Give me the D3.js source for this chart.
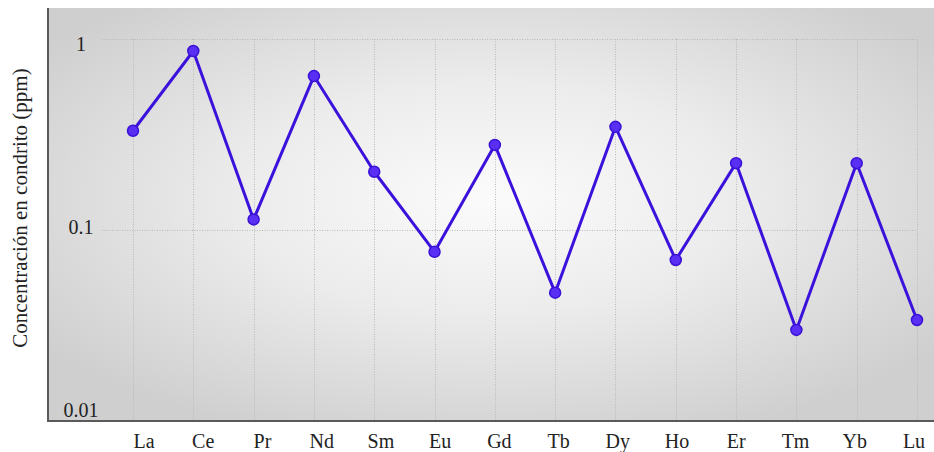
<!DOCTYPE html>
<html>
<head>
<meta charset="utf-8">
<script src="https://cdn.jsdelivr.net/npm/d3@7"></script>
<style>
  html, body { margin: 0; padding: 0; background: #fff; }
  svg { display: block; }
  text { font-family: "Liberation Serif", "Times New Roman", serif; fill: #222; }
</style>
</head>
<body>
<svg id="chart" width="934" height="452"></svg>
<script>
// Chondrite-normalised REE concentrations (ppm)
const elements = ["La", "Ce", "Pr", "Nd", "Sm", "Eu", "Gd", "Tb", "Dy", "Ho", "Er", "Tm", "Yb", "Lu"];
const concentrations = [0.330, 0.865, 0.113, 0.639, 0.201, 0.0764, 0.278, 0.0466, 0.346, 0.0692, 0.223, 0.0297, 0.223, 0.0335];
const yTicks = [0.01, 0.1, 1];
const yTickLabels = ["0.01", "0.1", "1"];
const yTitle = "Concentración en condrito (ppm)";

const svg = d3.select("#chart");

// Plot frame
const frame = { left: 48, top: 8, right: 934, bottom: 421 };

const y = d3.scaleLog().domain([0.01, 1.455]).range([420, frame.top]);
const x = d3.scalePoint().domain(elements).range([133, 917]);
const xLabel = d3.scalePoint().domain(elements).range([144, 914]);

// Soft radial background
const defs = svg.append("defs");
const grad = defs.append("radialGradient")
  .attr("id", "bg").attr("cx", "50%").attr("cy", "46%").attr("r", "62%");
grad.append("stop").attr("offset", "0%").attr("stop-color", "#fbfbfb");
grad.append("stop").attr("offset", "45%").attr("stop-color", "#ececec");
grad.append("stop").attr("offset", "100%").attr("stop-color", "#cfcfcf");

svg.append("rect")
  .attr("x", frame.left).attr("y", frame.top)
  .attr("width", frame.right - frame.left).attr("height", frame.bottom - frame.top)
  .attr("fill", "url(#bg)");

// Grid
const grid = svg.append("g").attr("stroke", "#b9b9b9").attr("stroke-width", 1)
  .attr("stroke-dasharray", "1,1.5").attr("fill", "none");
grid.selectAll("line.h").data(yTicks.filter(d => d > 0.01)).join("line")
  .attr("class", "h")
  .attr("x1", 102).attr("x2", 917)
  .attr("y1", d => Math.round(y(d)) + 0.5).attr("y2", d => Math.round(y(d)) + 0.5);
grid.selectAll("line.v").data(elements).join("line")
  .attr("class", "v")
  .attr("x1", d => Math.round(x(d)) + 0.5).attr("x2", d => Math.round(x(d)) + 0.5)
  .attr("y1", y(1)).attr("y2", frame.bottom);

// Axis lines
svg.append("line").attr("x1", frame.left).attr("x2", frame.left)
  .attr("y1", frame.top).attr("y2", frame.bottom + 1)
  .attr("stroke", "#5a5a5a").attr("stroke-width", 2);
svg.append("line").attr("x1", frame.left).attr("x2", frame.right)
  .attr("y1", frame.bottom).attr("y2", frame.bottom)
  .attr("stroke", "#5a5a5a").attr("stroke-width", 2);

// Y tick labels (drawn inside the frame)
svg.append("g").selectAll("text").data(yTicks).join("text")
  .attr("x", 81)
  .attr("y", d => y(d) * 0.961 + 13.5)
  .attr("text-anchor", "middle")
  .attr("font-size", 20)
  .text((d, i) => yTickLabels[i]);

// X labels
svg.append("g").selectAll("text").data(elements).join("text")
  .attr("x", d => xLabel(d))
  .attr("y", 448)
  .attr("text-anchor", "middle")
  .attr("font-size", 20)
  .text(d => d);

// Y title
svg.append("text")
  .attr("transform", "translate(27,208) rotate(-90)")
  .attr("text-anchor", "middle")
  .attr("font-size", 21)
  .text(yTitle);

// Series line and markers
const line = d3.line().x((d, i) => x(elements[i])).y(d => y(d));
svg.append("path")
  .datum(concentrations)
  .attr("d", line)
  .attr("fill", "none")
  .attr("stroke", "#3b12dc")
  .attr("stroke-width", 3)
  .attr("stroke-linejoin", "round");

svg.append("g").selectAll("circle").data(concentrations).join("circle")
  .attr("cx", (d, i) => x(elements[i]))
  .attr("cy", d => y(d))
  .attr("r", 5.5)
  .attr("fill", "#5a2ff4")
  .attr("stroke", "#3a12d6")
  .attr("stroke-width", 1.5);
</script>
</body>
</html>
